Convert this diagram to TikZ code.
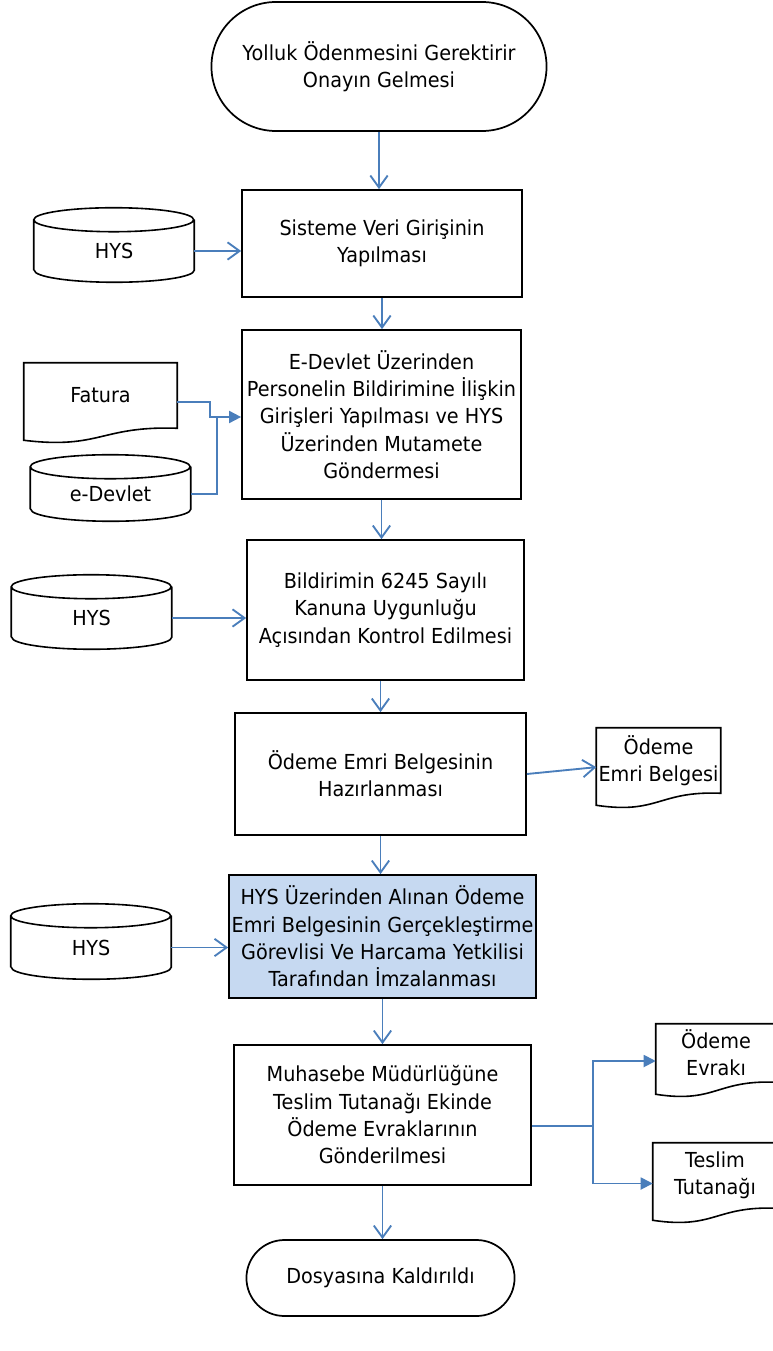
\documentclass[tikz,border=0pt]{standalone}
\usepackage{fontspec}
\setmainfont{DejaVu Sans}[FakeStretch=0.93]
\usetikzlibrary{arrows.meta,calc,shapes.misc}
\definecolor{flowblue}{RGB}{74,126,187}
\definecolor{signfill}{RGB}{198,217,241}
\tikzset{
  every node/.style={font=\fontsize{15.5}{20.5}\selectfont, align=center},
  term/.style={rounded rectangle, draw, line width=1.3pt},
  proc/.style={rectangle, draw, line width=1.3pt, inner xsep=2pt},
  db/.style={minimum width=120pt, inner sep=1pt,
    append after command={\pgfextra{\let\cn\tikzlastnode
      \draw[line width=1.2pt] (\cn.south west) -- ([yshift=9pt]\cn.north west)
        arc[start angle=180, end angle=-180, x radius=60pt, y radius=9pt]
        ([yshift=9pt]\cn.north east) -- (\cn.south east)
        arc[start angle=0, end angle=-180, x radius=60pt, y radius=9pt];
    }}},
  doc/.style={inner sep=1.5pt,
    append after command={\pgfextra{\let\dn\tikzlastnode
      \draw[line width=1.2pt] (\dn.north west) -- (\dn.north east) -- (\dn.south east)
        .. controls ($(\dn.south)+(0,2pt)$) and ($(\dn.south)+(0,-16pt)$)
        .. ($(\dn.south west)+(0,-9pt)$) -- cycle;
    }}},
  wire/.style={draw=flowblue, line width=1.4pt},
  flow/.style={wire, -{Straight Barb[length=9pt,width=13pt]}},
  feed/.style={wire, -{Triangle[length=9pt,width=9pt]}},
}
\begin{document}
\begin{tikzpicture}[x=0.75pt, y=-0.75pt]
  \useasboundingbox (0,0) rectangle (772,1351);
  % steps
  \node[term, minimum width=258pt, minimum height=96.75pt] (start) at (379,66.5) {Yolluk Ödenmesini Gerektirir\\Onayın Gelmesi};
  \node[proc, minimum width=210pt, minimum height=80.25pt] (veri) at (382,243.5) {Sisteme Veri Girişinin\\Yapılması};
  \node[proc, minimum width=209.25pt, minimum height=126.75pt] (giris) at (381.5,414.5) {E-Devlet Üzerinden\\Personelin Bildirimine İlişkin\\Girişleri Yapılması ve HYS\\Üzerinden Mutamete\\Göndermesi};
  \node[proc, minimum width=207.75pt, minimum height=105pt] (kontrol) at (385.5,610) {Bildirimin 6245 Sayılı\\Kanuna Uygunluğu\\Açısından Kontrol Edilmesi};
  \node[proc, minimum width=218.25pt, minimum height=91.5pt] (hazir) at (380.5,774) {Ödeme Emri Belgesinin\\Hazırlanması};
  \node[proc, fill=signfill, minimum width=230.25pt, minimum height=92.25pt] (imza) at (382.5,936.5) {HYS Üzerinden Alınan Ödeme\\Emri Belgesinin Gerçekleştirme\\Görevlisi Ve Harcama Yetkilisi\\Tarafından İmzalanması};
  \node[proc, minimum width=222.75pt, minimum height=105pt] (gonder) at (382.5,1115) {Muhasebe Müdürlüğüne\\Teslim Tutanağı Ekinde\\Ödeme Evraklarının\\Gönderilmesi};
  \node[term, minimum width=207.75pt, minimum height=57pt] (son) at (380.5,1278) {Dosyasına Kaldırıldı};
  % inputs and outputs
  \node[db, minimum height=28.5pt] (hys1) at (114,251) {HYS};
  \node[doc, minimum width=114.75pt, minimum height=48.75pt] (fatura) at (100.5,395.5) {Fatura};
  \node[db, minimum height=22.5pt] (edev) at (110.5,494) {e-Devlet};
  \node[db, minimum height=28.5pt] (hys2) at (91.5,618) {HYS};
  \node[db, minimum height=29.25pt] (hys3) at (91,947.5) {HYS};
  \node[doc, minimum width=92.25pt, minimum height=48.75pt] (belge) at (658.5,760.5) {Ödeme\\Emri Belgesi};
  \node[doc, minimum width=90pt, minimum height=43.5pt] (evrak) at (716,1053) {Ödeme\\Evrakı};
  \node[doc, minimum width=93pt, minimum height=48.75pt] (teslim) at (715,1175.5) {Teslim\\Tutanağı};
  % main flow
  \draw[flow] (start.south) -- (start.south |- veri.north);
  \draw[flow] (veri.south) -- (veri.south |- giris.north);
  \draw[flow] (giris.south) -- (giris.south |- kontrol.north);
  \draw[flow] (kontrol.south -| hazir) -- (hazir.north);
  \draw[flow] (hazir.south) -- (hazir.south |- imza.north);
  \draw[flow] (imza.south) -- (imza.south |- gonder.north);
  \draw[flow] (gonder.south) -- (gonder.south |- son.north);
  % side links
  \draw[flow] (hys1.east) -- (hys1.east -| veri.west);
  \coordinate (fj) at (210,417);
  \coordinate (ej) at (217,417);
  \draw[feed] ([yshift=-5pt]fatura.east) -| (fj) -- (fj -| giris.west);
  \draw[wire] (edev.east) -| (ej);
  \draw[flow] (hys2.east) -- (hys2.east -| kontrol.west);
  \draw[flow] (hazir.east) -- ([yshift=-5pt]belge.west);
  \draw[flow] (hys3.east) -- (hys3.east -| imza.west);
  \coordinate (br) at (593,1126);
  \draw[wire] (gonder.east |- br) -- (br);
  \draw[feed] (br) |- ([yshift=-6pt]evrak.west);
  \draw[feed] (br) |- ([yshift=-6pt]teslim.west);
\end{tikzpicture}
\end{document}
